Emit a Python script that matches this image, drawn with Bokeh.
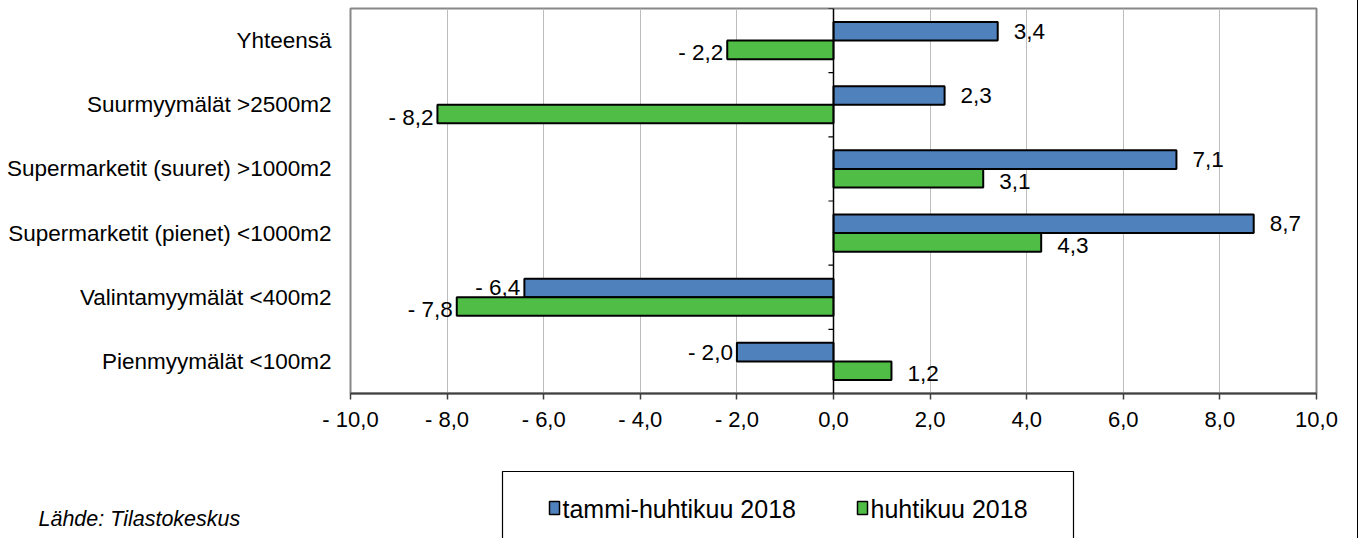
from bokeh.plotting import figure
from bokeh.models import Range1d, FixedTicker, Span, ColumnDataSource
from bokeh.layouts import column
from bokeh.embed import file_html
from bokeh.resources import INLINE
from bokeh.core.properties import value

# ---------------- data ----------------
categories = [
    "Yhteensä",
    "Suurmyymälät >2500m2",
    "Supermarketit (suuret) >1000m2",
    "Supermarketit (pienet) <1000m2",
    "Valintamyymälät <400m2",
    "Pienmyymälät <100m2",
]
series_names = ["tammi-huhtikuu 2018", "huhtikuu 2018"]
tammi_huhtikuu = [3.4, 2.3, 7.1, 8.7, -6.4, -2.0]
huhtikuu = [-2.2, -8.2, 3.1, 4.3, -7.8, 1.2]
x_ticks = [-10, -8, -6, -4, -2, 0, 2, 4, 6, 8, 10]
x_tick_labels = ["- 10,0", "- 8,0", "- 6,0", "- 4,0", "- 2,0", "0,0",
                 "2,0", "4,0", "6,0", "8,0", "10,0"]
source_note = "Lähde: Tilastokeskus"

# ---------------- style ----------------
BLUE = "#4F81BD"
GREEN = "#50BE46"
FONT = "Liberation Sans"
W = 1357
H1 = 440
H2 = 98


def fmt(v):
    s = f"{abs(v):.1f}".replace(".", ",")
    return ("- " + s) if v < 0 else s


n = len(categories)
ypos = list(range(n - 1, -1, -1))
OFF = 0.145
BAR_H = 0.29

p = figure(width=W, height=H1,
           x_range=Range1d(-10, 10), y_range=Range1d(-0.5, n - 0.5),
           output_backend="svg", toolbar_location=None,
           min_border_left=350, min_border_right=W - 1316,
           min_border_top=8, min_border_bottom=H1 - 393)
p.background_fill_color = "white"
p.border_fill_color = "white"
p.outline_line_color = "#878787"
p.outline_line_width = 2

# grid
p.ygrid.visible = False
xt = FixedTicker(ticks=x_ticks)
p.xaxis.ticker = xt
p.xgrid.ticker = xt
p.xgrid.grid_line_color = "#bdbdbd"
p.xgrid.grid_line_width = 1

# x axis
p.xaxis.major_label_overrides = {t: l for t, l in zip(x_ticks, x_tick_labels)}
p.xaxis.axis_line_color = "#404040"
p.xaxis.axis_line_width = 2
p.xaxis.major_tick_out = 6
p.xaxis.major_tick_in = 0
p.xaxis.major_tick_line_color = "#404040"
p.xaxis.major_tick_line_width = 1.5
p.xaxis.minor_tick_line_color = None
p.xaxis.major_label_text_font = FONT
p.xaxis.major_label_text_font_size = "22px"
p.xaxis.major_label_text_color = "black"
p.xaxis.major_label_standoff = 7

# y axis (category names)
p.yaxis.ticker = FixedTicker(ticks=ypos)
p.yaxis.major_label_overrides = {y: c for y, c in zip(ypos, categories)}
p.yaxis.axis_line_color = None
p.yaxis.major_tick_line_color = None
p.yaxis.minor_tick_line_color = None
p.yaxis.major_tick_out = 0
p.yaxis.major_label_standoff = 19
p.yaxis.major_label_text_font = FONT
p.yaxis.major_label_text_font_size = "22.5px"
p.yaxis.major_label_text_color = "black"

# bars
src = ColumnDataSource(dict(
    yb=[y + OFF for y in ypos],
    yg=[y - OFF for y in ypos],
    blue=tammi_huhtikuu,
    green=huhtikuu,
))
p.hbar(y="yb", left=0, right="blue", height=BAR_H, source=src,
       fill_color=BLUE, line_color="black", line_width=2)
p.hbar(y="yg", left=0, right="green", height=BAR_H, source=src,
       fill_color=GREEN, line_color="black", line_width=2)

# zero axis with small ticks at category boundaries
p.add_layout(Span(location=0, dimension="height", line_color="black", line_width=1.5))
bounds = [y - 0.5 for y in ypos] + [n - 0.5]
p.segment(x0=[-0.105] * len(bounds), x1=[0] * len(bounds), y0=bounds, y1=bounds,
          line_color="black", line_width=1.2)

# value labels
for vals, off, yoff in ((tammi_huhtikuu, OFF, 0), (huhtikuu, -OFF, 3)):
    pos = [(v, y + off) for v, y in zip(vals, ypos) if v >= 0]
    neg = [(v, y + off) for v, y in zip(vals, ypos) if v < 0]
    if pos:
        p.text(x=[a for a, _ in pos], y=[b for _, b in pos], text=[fmt(a) for a, _ in pos],
               x_offset=16, y_offset=yoff, text_align="left", text_baseline="middle",
               text_font=value(FONT), text_font_size="22.5px", text_color="black")
    if neg:
        p.text(x=[a for a, _ in neg], y=[b for _, b in neg], text=[fmt(a) for a, _ in neg],
               x_offset=-4, y_offset=yoff, text_align="right", text_baseline="middle",
               text_font=value(FONT), text_font_size="22.5px", text_color="black")

# ---------------- bottom strip: legend + source ----------------
q = figure(width=W, height=H2, x_range=Range1d(0, W), y_range=Range1d(H2, 0),
           output_backend="svg", toolbar_location=None,
           x_axis_type=None, y_axis_type=None, min_border=0, frame_align=False)
q.grid.visible = False
q.outline_line_color = None
q.background_fill_color = "white"
q.border_fill_color = "white"

LX0, LX1, LY0 = 502, 1073, 31
q.quad(left=[LX0], right=[LX1], top=[LY0], bottom=[H2 + 20],
       fill_color="white", line_color="black", line_width=1.2)
item_x = [554, 862]
q.rect(x=item_x, y=[67.5, 67.5], width=10, height=13,
       fill_color=[BLUE, GREEN], line_color="black", line_width=1.5)
q.text(x=[x + 8 for x in item_x], y=[68, 68], text=series_names,
       text_baseline="middle", text_align="left",
       text_font=value(FONT), text_font_size="25px", text_color="black")
q.text(x=[38], y=[78], text=[source_note], text_baseline="middle",
       text_font=value(FONT), text_font_size="21.5px", text_font_style="italic",
       text_color="black")

layout = column(p, q, spacing=0, styles={"border-right": "1px solid black"})
open("out.html", "w").write(file_html(layout, INLINE))
